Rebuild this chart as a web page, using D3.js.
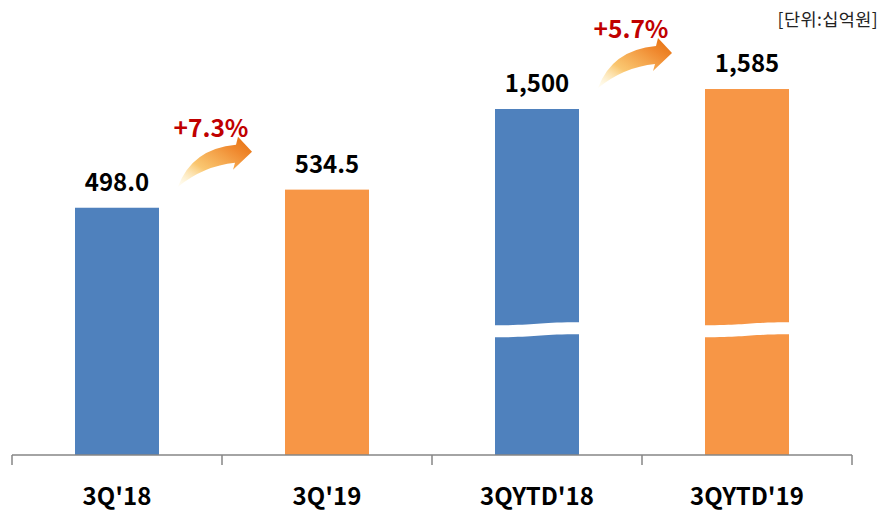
<!DOCTYPE html>
<html><head><meta charset="utf-8">
<script src="https://cdn.jsdelivr.net/npm/d3@7"></script>
<style>body{margin:0;background:#fff;}svg{display:block;}</style>
</head><body>
<svg id="c" width="881" height="511"></svg>
<script>
const categories = ["3Q'18", "3Q'19", "3QYTD'18", "3QYTD'19"];
const values = [498.0, 534.5, 1500, 1585];
const valueLabels = ["498.0", "534.5", "1,500", "1,585"];
const groups = ["quarter", "quarter", "ytd", "ytd"];
const colors = ["#4f81bd", "#f79646", "#4f81bd", "#f79646"];
const growth = [{from: 0, to: 1, label: "+7.3%"}, {from: 2, to: 3, label: "+5.7%"}];
const unitLabel = "[단위:십억원]";
const breakValue = 550;

const svg = d3.select("#c");
const font = "'Noto Sans CJK KR', 'Noto Sans', sans-serif";
const baseY = 455;

const x = d3.scaleBand().domain(categories).range([12, 852]).paddingInner(0.6).paddingOuter(0.3);
const yQ = d3.scaleLinear().domain([0, 600]).range([baseY, baseY - 600 * 0.4965]);
const yYtd = d3.scaleLinear().domain([0, 1400, 1700]).range([baseY, baseY - 322.5, baseY - 393]);
const yOf = i => groups[i] === "ytd" ? yYtd : yQ;

// bars
svg.selectAll("rect.bar").data(values).join("rect")
  .attr("x", (d, i) => x(categories[i]))
  .attr("y", (d, i) => yOf(i)(d))
  .attr("width", x.bandwidth())
  .attr("height", (d, i) => baseY - yOf(i)(d))
  .attr("fill", (d, i) => colors[i]);

// break marks on ytd bars
values.forEach((d, i) => {
  if (groups[i] !== "ytd") return;
  const x0 = x(categories[i]) - 1, x1 = x0 + x.bandwidth() + 2;
  const yc = yYtd(breakValue);
  const w = x1 - x0, m = x0 + w / 2;
  const p = d3.path();
  p.moveTo(x0, yc - 3);
  p.bezierCurveTo(m, yc - 3, m, yc - 6, x1, yc - 6);
  p.lineTo(x1, yc + 6);
  p.bezierCurveTo(m, yc + 6, m, yc + 9, x0, yc + 9);
  p.closePath();
  svg.append("path").attr("d", p.toString()).attr("fill", "#fff");
});

// value labels
svg.selectAll("text.val").data(values).join("text")
  .attr("x", (d, i) => x(categories[i]) + x.bandwidth() / 2)
  .attr("y", (d, i) => yOf(i)(d) - 17)
  .attr("text-anchor", "middle")
  .attr("font-family", font).attr("font-weight", "bold").attr("font-size", 24)
  .attr("fill", "#000")
  .text((d, i) => valueLabels[i]);

// axis
const axis = svg.append("g");
axis.append("line").attr("x1", 12).attr("x2", 852).attr("y1", baseY).attr("y2", baseY)
  .attr("stroke", "#868686").attr("stroke-width", 1.5);
const tickXs = categories.map(c => x(c) - x.step() * x.paddingInner() / 2).concat([852]);
tickXs[0] = 12;
axis.selectAll("line.tick").data(tickXs).join("line")
  .attr("x1", d => d).attr("x2", d => d).attr("y1", baseY).attr("y2", baseY + 10)
  .attr("stroke", "#868686").attr("stroke-width", 1.5);
axis.selectAll("text.cat").data(categories).join("text")
  .attr("x", d => x(d) + x.bandwidth() / 2)
  .attr("y", 505)
  .attr("text-anchor", "middle")
  .attr("font-family", font).attr("font-weight", "bold").attr("font-size", 24)
  .attr("fill", "#000")
  .text(d => d);

// unit label
svg.append("text").attr("x", 878).attr("y", 26).attr("text-anchor", "end")
  .attr("font-family", font).attr("font-size", 17.5).attr("fill", "#222")
  .attr("letter-spacing", 0.4)
  .text(unitLabel);

// gradient arrows
const defs = svg.append("defs");
const grad = defs.append("linearGradient").attr("id", "ag")
  .attr("x1", "0%").attr("y1", "100%").attr("x2", "100%").attr("y2", "0%");
grad.append("stop").attr("offset", "0%").attr("stop-color", "#fff4c0").attr("stop-opacity", 0.15);
grad.append("stop").attr("offset", "35%").attr("stop-color", "#f9c060").attr("stop-opacity", 0.9);
grad.append("stop").attr("offset", "75%").attr("stop-color", "#f08a30");
grad.append("stop").attr("offset", "100%").attr("stop-color", "#e46c0a");

const arrowPath = "M0,0 Q14,-38 58,-42 L60,-50 L74,-35 L55,-17 L57,-24 Q26,-21 0,0 Z";
growth.forEach(g => {
  const ax = x(categories[g.from]) + x.bandwidth() + 19;
  const ay = yOf(g.from)(values[g.from]) - 21;
  svg.append("path").attr("d", arrowPath).attr("transform", `translate(${ax},${ay})`)
    .attr("fill", "url(#ag)");
  svg.append("text").attr("x", ax + 33).attr("y", ay - 50)
    .attr("text-anchor", "middle")
    .attr("font-family", font).attr("font-weight", "bold").attr("font-size", 24.5)
    .attr("fill", "#c00000")
    .text(g.label);
});
</script>
</body></html>
